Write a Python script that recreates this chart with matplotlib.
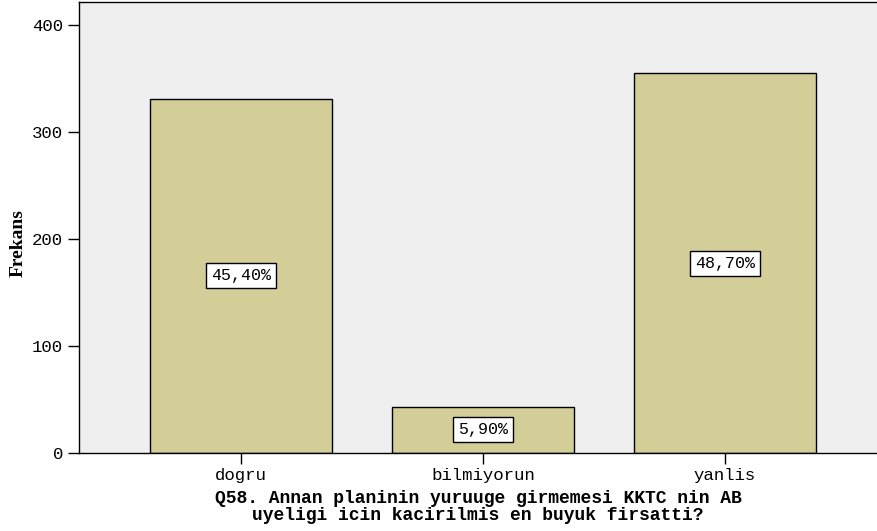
import numpy as np
import matplotlib.pyplot as plt

categories = ['dogru', 'bilmiyorun', 'yanlis']
counts = [331, 43, 355]
percent_labels = ['45,40%', '5,90%', '48,70%']

bar_color = '#d3ce97'
bg_color = '#efefef'

plt.rcParams['font.family'] = ['Liberation Mono', 'DejaVu Sans Mono']

fig = plt.figure(figsize=(8.77, 5.31), dpi=100)
ax = fig.add_axes([0.090, 0.147, 0.910, 0.849])
ax.set_facecolor(bg_color)

x = np.arange(len(categories))
ax.bar(x, counts, width=0.75, color=bar_color, edgecolor='black', linewidth=1)

# percentage boxes at the middle of each bar
for xi, c, lab in zip(x, counts, percent_labels):
    ax.text(xi, c / 2, lab, ha='center', va='center', fontsize=12,
            bbox=dict(boxstyle='square,pad=0.3', facecolor='white', edgecolor='black', linewidth=1))

ax.set_xlim(-0.669, 2.628)
ax.set_ylim(0, 421.5)
ax.set_xticks(x)
ax.set_xticklabels(categories, fontsize=12.5)
ax.set_yticks([0, 100, 200, 300, 400])
ax.tick_params(axis='both', direction='out', length=8, width=1, labelsize=12.5)
ax.tick_params(axis='x', pad=3)

ax.spines['right'].set_visible(False)
for side in ['left', 'bottom', 'top']:
    ax.spines[side].set_linewidth(1)

ax.set_ylabel('Frekans', fontsize=14, fontweight='bold',
              family=['Liberation Serif', 'DejaVu Serif'])
ax.yaxis.set_label_coords(-0.066, 0.465)
ax.set_xlabel('Q58. Annan planinin yuruuge girmemesi KKTC nin AB\nuyeligi icin kacirilmis en buyuk firsatti?',
              fontsize=13, fontweight='bold', labelpad=5, linespacing=0.95)

plt.savefig('out.png', dpi=100)
